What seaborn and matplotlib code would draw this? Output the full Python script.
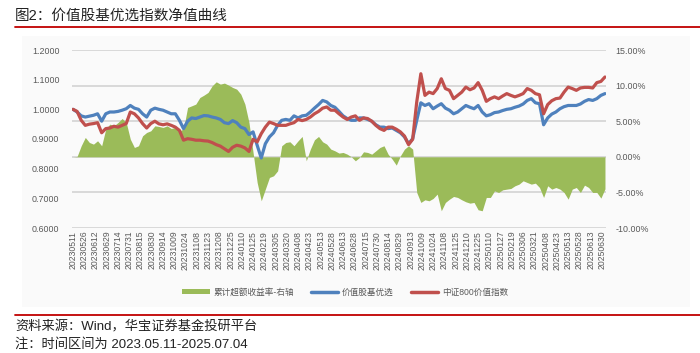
import matplotlib
matplotlib.use("Agg")
import matplotlib.pyplot as plt
import numpy as np
import pandas as pd
import seaborn as sns
from matplotlib.lines import Line2D
from matplotlib.patches import Patch, Rectangle

# x tick labels, one every 11 trading days
DATE_LABELS = [
    "20230511", "20230526", "20230612", "20230629", "20230714", "20230731",
    "20230815", "20230830", "20230914", "20231009", "20231024", "20231108",
    "20231123", "20231208", "20231225", "20240110", "20240125", "20240219",
    "20240305", "20240320", "20240408", "20240423", "20240513", "20240528",
    "20240613", "20240628", "20240715", "20240730", "20240814", "20240829",
    "20240913", "20241009", "20241024", "20241108", "20241125", "20241210",
    "20241225", "20250110", "20250127", "20250219", "20250306", "20250321",
    "20250408", "20250423", "20250513", "20250528", "20250613", "20250630",
]
TICK_STEP = 11
SAMPLE_STEP = 4  # values below are read every 4 trading days

# 价值股基优选 net value
value_fund = [
    1.000, 0.991, 0.978, 0.974, 0.977, 0.980, 0.985, 0.960, 0.985, 0.991,
    0.991, 0.993, 0.997, 1.002, 1.013, 1.004, 1.000, 0.985, 0.974, 0.997,
    1.004, 1.000, 0.997, 0.991, 0.985, 0.985, 0.963, 0.935, 0.960, 0.971,
    0.969, 0.974, 0.979, 0.978, 0.974, 0.971, 0.966, 0.955, 0.952, 0.962,
    0.955, 0.940, 0.935, 0.915, 0.924, 0.879, 0.836, 0.884, 0.907, 0.921,
    0.946, 0.963, 0.966, 0.963, 0.978, 0.971, 0.978, 0.980, 0.991, 1.004,
    1.016, 1.030, 1.025, 1.013, 1.007, 0.993, 0.978, 0.969, 0.963, 0.963,
    0.971, 0.971, 0.966, 0.960, 0.948, 0.940, 0.940, 0.935, 0.937, 0.929,
    0.921, 0.907, 0.884, 0.901, 0.963, 1.022, 1.013, 1.019, 1.002, 1.011,
    1.019, 1.004, 0.997, 0.985, 0.991, 1.002, 1.013, 1.007, 1.002, 1.013,
    0.991, 0.978, 0.982, 0.989, 0.991, 0.996, 1.000, 1.002, 1.007, 1.011,
    1.018, 1.030, 1.036, 1.022, 1.019, 0.948, 0.971, 0.984, 0.991, 1.002,
    1.009, 1.013, 1.013, 1.013, 1.018, 1.027, 1.033, 1.030, 1.036, 1.047,
    1.053,
]

# 中证800价值指数 net value
csi800_value = [
    1.000, 0.993, 0.963, 0.946, 0.950, 0.952, 0.955, 0.921, 0.935, 0.937,
    0.943, 0.940, 0.946, 0.952, 0.991, 0.985, 0.971, 0.952, 0.937, 0.952,
    0.960, 0.951, 0.948, 0.951, 0.946, 0.940, 0.929, 0.896, 0.901, 0.899,
    0.896, 0.896, 0.894, 0.893, 0.888, 0.881, 0.876, 0.867, 0.858, 0.872,
    0.879, 0.876, 0.870, 0.858, 0.899, 0.890, 0.918, 0.940, 0.957, 0.952,
    0.946, 0.946, 0.946, 0.951, 0.955, 0.966, 0.962, 0.966, 0.974, 0.985,
    0.993, 1.004, 1.008, 0.997, 0.997, 0.985, 0.974, 0.966, 0.974, 0.978,
    0.963, 0.971, 0.969, 0.960, 0.946, 0.935, 0.929, 0.940, 0.940, 0.933,
    0.924, 0.910, 0.881, 0.899, 1.025, 1.120, 1.047, 1.058, 1.053, 1.070,
    1.103, 1.070, 1.064, 1.036, 1.047, 1.058, 1.075, 1.066, 1.072, 1.090,
    1.064, 1.027, 1.036, 1.042, 1.036, 1.045, 1.053, 1.047, 1.042, 1.047,
    1.053, 1.070, 1.064, 1.053, 1.049, 0.985, 1.016, 1.029, 1.036, 1.038,
    1.058, 1.075, 1.070, 1.064, 1.072, 1.074, 1.074, 1.072, 1.090, 1.094,
    1.109,
]

# 累计超额收益率 (%), right axis
excess_pct = [
    0.00, 0.05, 1.55, 2.72, 2.01, 1.78, 2.25, 1.55, 3.89, 4.59,
    4.35, 4.82, 5.38, 4.82, 2.48, 1.31, 1.55, 2.95, 3.42, 3.65,
    4.35, 4.26, 4.12, 4.35, 3.98, 4.12, 3.65, 3.89, 6.93, 7.16,
    7.40, 8.33, 8.66, 9.04, 9.97, 10.53, 10.21, 10.35, 10.07, 9.74,
    9.50, 8.80, 7.40, 4.82, 0.61, -3.61, -6.18, -4.54, -2.90, -2.67,
    -1.97, 1.55, 2.01, 2.11, 1.55, 2.25, 2.86, -0.56, 1.08, 2.39,
    2.86, 2.11, 1.78, 1.08, 0.84, 0.52, 0.61, 0.37, 0.00, -0.56,
    -0.09, 0.70, 0.61, 0.37, 0.84, 1.31, 1.55, 0.37, -0.33, -1.17,
    0.14, 1.08, 1.55, 1.08, -5.01, -6.41, -6.04, -6.18, -5.85, -5.24,
    -7.58, -6.41, -5.95, -5.57, -5.71, -6.04, -6.32, -6.51, -6.41, -7.44,
    -7.58, -5.71, -5.71, -4.78, -5.01, -4.64, -4.54, -4.45, -4.07, -3.84,
    -3.37, -3.61, -3.84, -3.70, -4.31, -5.71, -4.07, -4.54, -4.31, -4.54,
    -5.01, -5.95, -4.54, -4.31, -5.01, -3.98, -4.31, -5.01, -5.00, -5.80,
    -4.50,
]

GREEN = "#9BBB59"
BLUE = "#4F81BD"
RED = "#C0504D"
GRAY = "#595959"

sns.set_theme(style="white")
plt.rcParams["font.family"] = ["Liberation Sans", "Noto Sans CJK SC", "DejaVu Sans"]

df = pd.DataFrame({
    "pos": np.arange(len(value_fund)) * SAMPLE_STEP,
    "价值股基优选": value_fund,
    "中证800价值指数": csi800_value,
    "excess": np.array(excess_pct) / 100,
})

fig = plt.figure(figsize=(7.0, 3.53), dpi=100)
fig.patches.append(Rectangle((22 / 700, 46 / 353), 668 / 700, 271 / 353,
                             transform=fig.transFigure, facecolor="#fafafa",
                             edgecolor="none", zorder=-5))

ax2 = fig.add_axes([72 / 700, 1 - 228 / 353, 534 / 700, 178 / 353])
ax2.set_zorder(1)
ax = ax2.twinx()
ax.set_zorder(2)
ax2.yaxis.tick_right()
ax.yaxis.tick_left()
ax.yaxis.set_label_position("left")
ax.patch.set_visible(False)
ax2.patch.set_visible(False)

# excess return area (right axis), grid lives on this axis so the area covers it
ax2.fill_between(df["pos"], 0, df["excess"], color=GREEN, linewidth=0, zorder=2)
ax2.set_ylim(-0.10, 0.15)
ax2.set_yticks(np.arange(-0.10, 0.151, 0.05))
ax2.set_yticklabels([f"{v * 100:.2f}%" for v in np.arange(-0.10, 0.151, 0.05)])
ax2.grid(axis="y", color="#d9d9d9", linewidth=1.4, zorder=0)
ax2.set_axisbelow(True)

sns.lineplot(data=df, x="pos", y="价值股基优选", color=BLUE, linewidth=2.3, ax=ax)
sns.lineplot(data=df, x="pos", y="中证800价值指数", color=RED, linewidth=2.3, ax=ax)
ax.set_ylim(0.6, 1.2)
ax.set_yticks(np.arange(0.6, 1.201, 0.1))
ax.set_yticklabels([f"{v:.4f}" for v in np.arange(0.6, 1.201, 0.1)])
ax.set_ylabel("")
ax.set_xlabel("")
ax2.set_xlabel("")
ax2.set_xlim(-1, 521)

tick_pos = np.arange(len(DATE_LABELS)) * TICK_STEP
ax2.set_xticks(tick_pos)
ax2.set_xticklabels(DATE_LABELS, rotation=90)

for a in (ax, ax2):
    for s in a.spines.values():
        s.set_visible(False)
    a.tick_params(axis="both", length=0, labelsize=6.4, labelcolor=GRAY, pad=2)
ax.tick_params(axis="x", labelbottom=False, labeltop=False)
ax2.tick_params(axis="x", labelsize=6.2, pad=2, labelbottom=True)
ax.tick_params(axis="y", pad=9)
ax2.tick_params(axis="y", pad=7, labelright=True, labelleft=False)

handles = [
    Patch(facecolor=GREEN, edgecolor="none"),
    Line2D([], [], color=BLUE, linewidth=2.5),
    Line2D([], [], color=RED, linewidth=2.5),
]
labels = ["累计超额收益率-右轴", "价值股基优选", "中证800价值指数"]
leg = fig.legend(handles, labels, loc="center", bbox_to_anchor=(345 / 700, 1 - 292 / 353),
                 ncol=3, frameon=False, fontsize=6.2, handlelength=3.2,
                 handleheight=0.5, columnspacing=2.0, handletextpad=0.4)
for t in leg.get_texts():
    t.set_color(GRAY)

# title, rules and notes
fig.text(15 / 700, 1 - 16 / 353, "图2：价值股基优选指数净值曲线", fontsize=10.5,
         va="center", ha="left", color="#222222")
fig.add_artist(Line2D([15 / 700, 1.0], [1 - 27 / 353] * 2, color="#C00000",
                      linewidth=1.3, transform=fig.transFigure))
fig.add_artist(Line2D([15 / 700, 1.0], [1 - 315 / 353] * 2, color="#C00000",
                      linewidth=1.3, transform=fig.transFigure))
fig.text(15 / 700, 1 - 327 / 353, "资料来源：Wind，华宝证券基金投研平台", fontsize=9.5,
         va="center", ha="left", color="#222222")
fig.text(15 / 700, 1 - 344 / 353, "注：时间区间为 2023.05.11-2025.07.04", fontsize=9.5,
         va="center", ha="left", color="#222222")

fig.savefig("out.png", dpi=100)
